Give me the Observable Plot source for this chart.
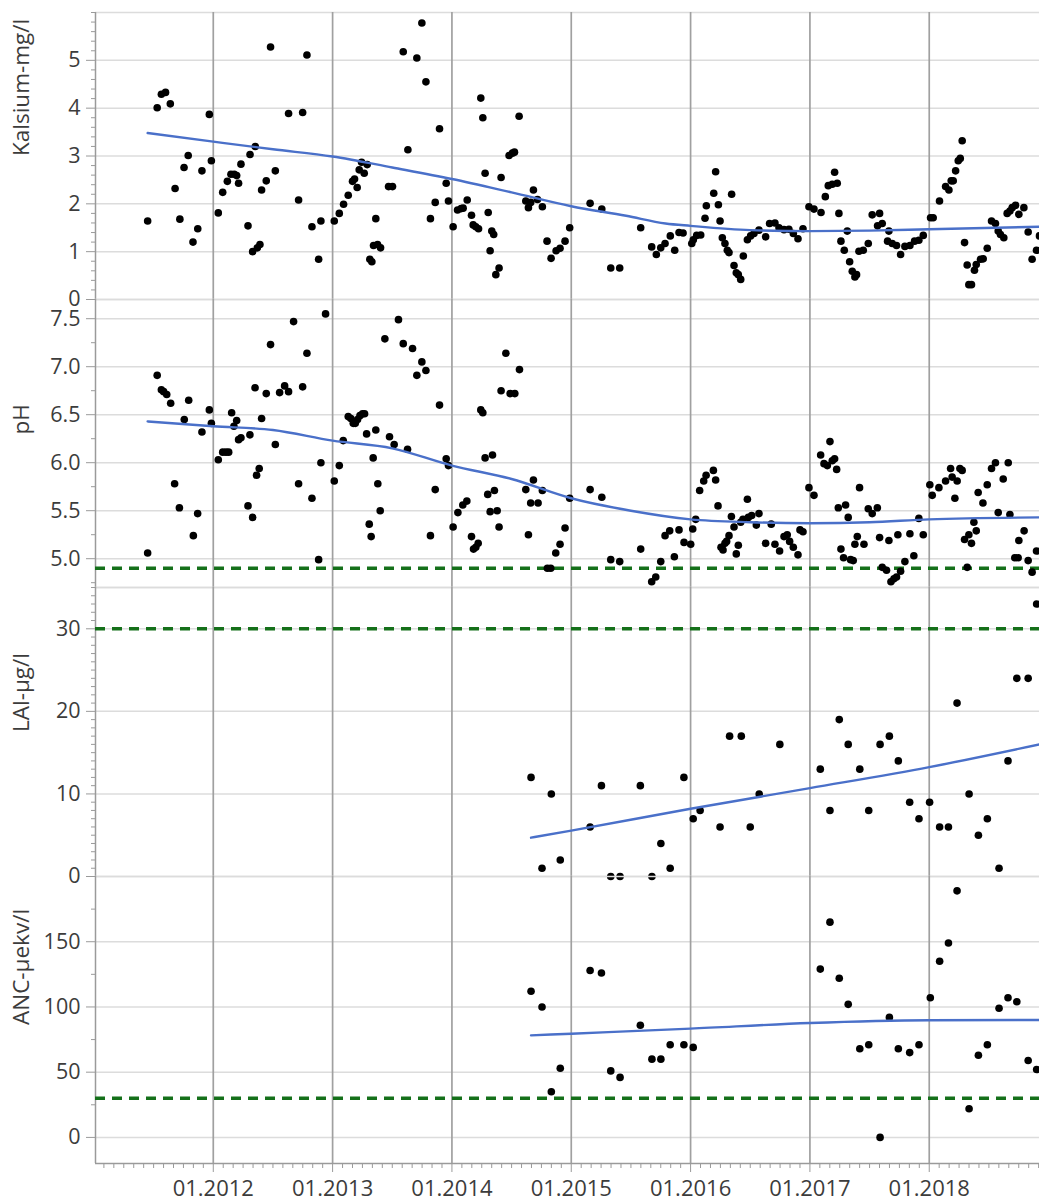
<!DOCTYPE html>
<html>
<head>
<meta charset="utf-8">
<script src="https://cdn.jsdelivr.net/npm/d3@7"></script>
<script src="https://cdn.jsdelivr.net/npm/@observablehq/plot@0.6"></script>
<style>
  html, body { margin: 0; padding: 0; background: #fff; }
  #chart svg { display: block; overflow: visible; }
</style>
</head>
<body>
<div id="chart"></div>
<script>
// ---------- x axis (decimal years) ----------
const yearTicks = [2012, 2013, 2014, 2015, 2016, 2017, 2018];
const yearTickLabels = ["01.2012", "01.2013", "01.2014", "01.2015", "01.2016", "01.2017", "01.2018"];
const xDomain = [2011.013, 2018.924];

// ---------- Kalsium (mg/l): [year, value] ----------
const kalsium = [
[2011.45,1.64],[2011.53,4.01],[2011.565,4.29],[2011.60,4.33],[2011.64,4.09],[2011.68,2.32],[2011.72,1.68],[2011.755,2.76],[2011.79,3.01],[2011.83,1.20],[2011.87,1.48],[2011.905,2.69],[2011.967,3.87],[2011.984,2.90],
[2012.042,1.81],[2012.079,2.24],[2012.118,2.47],[2012.148,2.62],[2012.176,2.62],[2012.196,2.59],[2012.212,2.43],[2012.232,2.83],[2012.291,1.54],[2012.308,3.03],[2012.33,1.00],[2012.352,3.20],[2012.369,1.08],[2012.391,1.15],[2012.405,2.29],[2012.444,2.48],[2012.48,5.28],[2012.52,2.69],[2012.631,3.89],[2012.715,2.08],[2012.749,3.91],[2012.785,5.11],[2012.827,1.52],[2012.883,0.84],[2012.902,1.64],
[2013.014,1.64],[2013.056,1.80],[2013.092,1.99],[2013.131,2.18],[2013.167,2.47],[2013.184,2.52],[2013.206,2.34],[2013.223,2.71],[2013.243,2.87],[2013.265,2.64],[2013.29,2.82],[2013.312,0.84],[2013.329,0.79],[2013.343,1.13],[2013.362,1.69],[2013.377,1.15],[2013.402,1.08],[2013.469,2.36],[2013.502,2.36],[2013.592,5.18],[2013.631,3.13],[2013.706,5.05],[2013.748,5.78],[2013.782,4.55],[2013.82,1.69],[2013.86,2.03],[2013.896,3.57],[2013.952,2.43],[2013.971,2.06],
[2014.01,1.52],[2014.047,1.87],[2014.077,1.90],[2014.094,1.91],[2014.128,2.08],[2014.164,1.76],[2014.178,1.56],[2014.2,1.52],[2014.223,1.48],[2014.242,4.21],[2014.259,3.80],[2014.278,2.64],[2014.304,1.82],[2014.32,1.02],[2014.334,1.43],[2014.35,1.36],[2014.368,0.52],[2014.395,0.66],[2014.412,2.55],[2014.479,3.01],[2014.507,3.06],[2014.524,3.08],[2014.563,3.83],[2014.619,2.06],[2014.641,1.92],[2014.66,2.03],[2014.683,2.29],[2014.717,2.09],[2014.758,1.94],[2014.797,1.22],[2014.831,0.86],[2014.873,1.02],[2014.906,1.07],[2014.948,1.22],[2014.987,1.50],
[2015.158,2.01],[2015.256,1.89],[2015.331,0.66],[2015.406,0.66],[2015.582,1.50],[2015.674,1.10],[2015.713,0.94],[2015.75,1.08],[2015.786,1.17],[2015.83,1.33],[2015.867,1.03],[2015.903,1.40],[2015.937,1.39],
[2016.01,1.17],[2016.023,1.25],[2016.051,1.34],[2016.085,1.35],[2016.121,1.70],[2016.132,1.96],[2016.194,2.22],[2016.21,2.67],[2016.233,1.98],[2016.247,1.64],[2016.266,1.29],[2016.288,1.17],[2016.308,1.03],[2016.322,0.98],[2016.344,2.20],[2016.364,0.71],[2016.383,0.56],[2016.4,0.52],[2016.42,0.42],[2016.442,0.91],[2016.476,1.25],[2016.503,1.33],[2016.531,1.38],[2016.573,1.45],[2016.629,1.31],[2016.662,1.59],[2016.707,1.60],[2016.741,1.50],[2016.783,1.46],[2016.824,1.47],[2016.861,1.38],[2016.9,1.27],[2016.942,1.48],[2016.992,1.94],
[2017.034,1.89],[2017.093,1.82],[2017.129,2.15],[2017.154,2.38],[2017.187,2.41],[2017.207,2.66],[2017.229,2.43],[2017.243,1.80],[2017.26,1.22],[2017.288,1.03],[2017.313,1.43],[2017.333,0.79],[2017.355,0.59],[2017.377,0.47],[2017.391,0.52],[2017.411,1.01],[2017.447,1.03],[2017.489,1.17],[2017.522,1.77],[2017.567,1.54],[2017.584,1.80],[2017.606,1.59],[2017.651,1.22],[2017.662,1.43],[2017.69,1.17],[2017.726,1.13],[2017.76,0.94],[2017.796,1.11],[2017.838,1.13],[2017.877,1.22],[2017.913,1.24],[2017.95,1.34],
[2018.011,1.71],[2018.033,1.71],[2018.086,2.06],[2018.137,2.36],[2018.165,2.29],[2018.184,2.48],[2018.201,2.48],[2018.221,2.69],[2018.243,2.90],[2018.26,2.95],[2018.276,3.32],[2018.296,1.19],[2018.318,0.72],[2018.332,0.31],[2018.354,0.31],[2018.379,0.61],[2018.394,0.73],[2018.43,0.84],[2018.452,0.85],[2018.486,1.07],[2018.522,1.64],[2018.555,1.59],[2018.578,1.43],[2018.597,1.36],[2018.625,1.29],[2018.653,1.80],[2018.676,1.85],[2018.695,1.92],[2018.723,1.97],[2018.751,1.78],[2018.793,1.92],[2018.829,1.41],[2018.862,0.84],[2018.899,1.03],[2018.924,1.33]
];
const kalsiumTrend = [[2011.45,3.48],[2012,3.30],[2012.5,3.14],[2013,2.99],[2013.5,2.76],[2014,2.52],[2014.5,2.24],[2015,1.95],[2015.46,1.75],[2015.79,1.59],[2016,1.54],[2016.5,1.45],[2017,1.43],[2017.5,1.44],[2018,1.47],[2018.924,1.52]];

// ---------- pH: [year, value] ----------
const ph = [
[2011.45,5.06],[2011.53,6.91],[2011.565,6.76],[2011.584,6.74],[2011.61,6.71],[2011.643,6.62],[2011.676,5.78],[2011.716,5.53],[2011.757,6.45],[2011.794,6.65],[2011.833,5.24],[2011.869,5.47],[2011.905,6.32],[2011.967,6.55],[2011.984,6.41],
[2012.042,6.03],[2012.079,6.11],[2012.106,6.11],[2012.129,6.11],[2012.154,6.52],[2012.173,6.38],[2012.196,6.44],[2012.212,6.24],[2012.232,6.26],[2012.291,5.55],[2012.307,6.29],[2012.33,5.43],[2012.35,6.78],[2012.363,5.87],[2012.385,5.94],[2012.405,6.46],[2012.444,6.72],[2012.48,7.23],[2012.52,6.19],[2012.556,6.73],[2012.598,6.80],[2012.631,6.74],[2012.673,7.47],[2012.715,5.78],[2012.749,6.79],[2012.785,7.14],[2012.827,5.63],[2012.883,4.99],[2012.902,6.00],[2012.941,7.55],
[2013.014,5.81],[2013.056,5.97],[2013.089,6.23],[2013.131,6.48],[2013.153,6.46],[2013.173,6.41],[2013.19,6.41],[2013.209,6.45],[2013.229,6.49],[2013.251,6.51],[2013.268,6.51],[2013.285,6.30],[2013.307,5.36],[2013.323,5.23],[2013.34,6.05],[2013.362,6.34],[2013.379,5.78],[2013.399,5.50],[2013.438,7.29],[2013.477,6.27],[2013.516,6.19],[2013.552,7.49],[2013.592,7.24],[2013.628,6.14],[2013.67,7.19],[2013.706,6.91],[2013.748,7.05],[2013.782,6.96],[2013.82,5.24],[2013.86,5.72],[2013.896,6.60],[2013.952,6.04],[2013.971,5.97],
[2014.01,5.33],[2014.05,5.48],[2014.091,5.56],[2014.125,5.60],[2014.164,5.23],[2014.181,5.10],[2014.2,5.12],[2014.22,5.16],[2014.242,6.55],[2014.259,6.52],[2014.278,6.05],[2014.3,5.67],[2014.32,5.49],[2014.34,6.08],[2014.356,5.71],[2014.379,5.50],[2014.395,5.33],[2014.412,6.75],[2014.452,7.14],[2014.488,6.72],[2014.527,6.72],[2014.566,6.97],[2014.619,5.72],[2014.641,5.25],[2014.66,5.58],[2014.683,5.82],[2014.722,5.58],[2014.758,5.71],[2014.8,4.90],[2014.828,4.90],[2014.87,5.06],[2014.906,5.15],[2014.948,5.32],[2014.987,5.63],
[2015.158,5.72],[2015.256,5.64],[2015.331,4.99],[2015.406,4.97],[2015.582,5.10],[2015.674,4.76],[2015.708,4.81],[2015.75,4.97],[2015.786,5.24],[2015.825,5.29],[2015.864,5.02],[2015.903,5.30],[2015.945,5.17],
[2016.001,5.15],[2016.018,5.31],[2016.043,5.41],[2016.076,5.71],[2016.11,5.81],[2016.13,5.87],[2016.191,5.92],[2016.21,5.82],[2016.23,5.55],[2016.255,5.12],[2016.272,5.09],[2016.288,5.16],[2016.302,5.18],[2016.322,5.24],[2016.342,5.44],[2016.364,5.33],[2016.383,5.05],[2016.4,5.14],[2016.42,5.38],[2016.439,5.41],[2016.476,5.62],[2016.484,5.43],[2016.512,5.45],[2016.551,5.35],[2016.573,5.47],[2016.629,5.16],[2016.676,5.36],[2016.707,5.15],[2016.746,5.08],[2016.783,5.23],[2016.81,5.25],[2016.83,5.18],[2016.861,5.12],[2016.9,5.04],[2016.917,5.30],[2016.942,5.28],[2016.992,5.74],
[2017.034,5.66],[2017.09,6.08],[2017.118,5.99],[2017.146,5.97],[2017.168,6.22],[2017.187,6.02],[2017.207,6.04],[2017.224,5.93],[2017.238,5.53],[2017.26,5.10],[2017.282,5.01],[2017.299,5.56],[2017.321,5.43],[2017.341,4.99],[2017.363,4.98],[2017.377,5.15],[2017.397,5.23],[2017.416,5.74],[2017.453,5.15],[2017.489,5.52],[2017.522,5.47],[2017.565,5.53],[2017.584,5.22],[2017.606,4.91],[2017.642,4.88],[2017.662,5.19],[2017.679,4.76],[2017.704,4.79],[2017.726,4.81],[2017.737,5.25],[2017.76,4.87],[2017.796,4.97],[2017.838,5.26],[2017.871,5.03],[2017.913,5.42],[2017.95,5.25],
[2018.005,5.77],[2018.025,5.66],[2018.081,5.74],[2018.137,5.81],[2018.179,5.94],[2018.192,5.85],[2018.215,5.63],[2018.234,5.81],[2018.257,5.94],[2018.276,5.92],[2018.296,5.20],[2018.318,4.91],[2018.332,5.25],[2018.354,5.16],[2018.374,5.38],[2018.394,5.29],[2018.41,5.69],[2018.45,5.58],[2018.486,5.77],[2018.522,5.94],[2018.555,6.00],[2018.578,5.48],[2018.62,5.83],[2018.662,6.00],[2018.676,5.46],[2018.717,5.01],[2018.745,5.01],[2018.751,5.19],[2018.795,5.29],[2018.829,4.98],[2018.862,4.86],[2018.899,5.08]
];
const phTrend = [[2011.45,6.43],[2012,6.38],[2012.5,6.34],[2013,6.23],[2013.5,6.15],[2014,5.97],[2014.5,5.83],[2015,5.63],[2015.5,5.50],[2016,5.41],[2016.5,5.38],[2017,5.37],[2017.5,5.38],[2018,5.41],[2018.924,5.43]];

// ---------- LAl (µg/l): [year, value] ----------
const lal = [
[2014.663,12],[2014.755,1],[2014.833,10],[2014.908,2],[2015.158,6],[2015.253,11],[2015.331,0],[2015.409,0],[2015.579,11],[2015.676,0],[2015.751,4],[2015.829,1],[2015.944,12],
[2016.022,7],[2016.08,8],[2016.247,6],[2016.327,17],[2016.425,17],[2016.5,6],[2016.575,10],[2016.748,16],
[2017.087,13],[2017.168,8],[2017.246,19],[2017.321,16],[2017.418,13],[2017.493,8],[2017.588,16],[2017.666,17],[2017.741,14],[2017.836,9],[2017.914,7],
[2018.003,9],[2018.087,6],[2018.161,6],[2018.233,21],[2018.334,10],[2018.412,5],[2018.487,7],[2018.585,1],[2018.66,14],[2018.734,24],[2018.829,24],[2018.9,33]
];
const lalTrend = [[2014.663,4.7],[2015,5.55],[2016,8.2],[2017,10.7],[2018,13.25],[2018.924,16.0]];

// ---------- ANC (µekv/l): [year, value] ----------
const anc = [
[2014.663,112],[2014.755,100],[2014.833,35],[2014.908,53],[2015.158,128],[2015.253,126],[2015.331,51],[2015.409,46],[2015.579,86],[2015.676,60],[2015.751,60],[2015.829,71],[2015.944,71],[2016.022,69],
[2017.087,129],[2017.168,165],[2017.246,122],[2017.321,102],[2017.418,68],[2017.493,71],[2017.588,0],[2017.666,92],[2017.741,68],[2017.836,65],[2017.914,71],
[2018.009,107],[2018.087,135],[2018.161,149],[2018.233,189],[2018.334,22],[2018.412,63],[2018.487,71],[2018.585,99],[2018.66,107],[2018.734,104],[2018.829,59],[2018.9,52]
];
const ancTrend = [[2014.663,78.2],[2015,79.5],[2016,83.4],[2017,87.7],[2018,89.8],[2018.924,90.0]];

// ---------- panel definitions ----------
const panels = [
  {label: "Kalsium-mg/l", data: kalsium, trend: kalsiumTrend, domain: [0, 6],
   major: [0, 1, 2, 3, 4, 5], minorStep: 0.2, fmt: d3.format("d"), refs: [],
   height: 299, marginTop: 12, marginBottom: 0, labelDy: 0},
  {label: "pH", data: ph, trend: phTrend, domain: [4.7, 7.7],
   major: [5.0, 5.5, 6.0, 6.5, 7.0, 7.5], minorStep: 0.25, fmt: d3.format(".1f"), refs: [4.9],
   height: 288, marginTop: 0, marginBottom: 0, labelDy: -9},
  {label: "LAl-µg/l", data: lal, trend: lalTrend, domain: [0, 35],
   major: [0, 10, 20, 30], minorStep: 1, fmt: d3.format("d"), refs: [30],
   height: 289, marginTop: 0, marginBottom: 0, labelDy: 0},
  {label: "ANC-µekv/l", data: anc, trend: ancTrend, domain: [-20, 200],
   major: [0, 50, 100, 150], minorStep: 25, fmt: d3.format("d"), refs: [30],
   height: 325, marginTop: 0, marginBottom: 38, labelDy: 5, xAxis: true}
];

const GRID_H = "#dcdcdc", GRID_V = "#a0a0a0", AXIS = "#9a9a9a";
const TEXT = "#3c3c3c", TREND = "#4a70c9", REF = "#15701a";
const FONT = "'Open Sans', 'Noto Sans', sans-serif";
const monthTicks = d3.range(2011 + 1/12, 2018.924, 1/12).filter(m => Math.abs(m - Math.round(m)) > 1e-6);

const root = document.getElementById("chart");
for (const p of panels) {
  const [lo, hi] = p.domain;
  const minor = d3.range(Math.ceil(lo / p.minorStep) * p.minorStep, hi + 1e-9, p.minorStep)
    .map(v => +v.toFixed(4))
    .filter(v => !p.major.some(m => Math.abs(m - v) < 1e-6));
  const marks = [
    Plot.gridY(p.major.filter(v => v > lo && v < hi), {stroke: GRID_H, strokeOpacity: 1, strokeWidth: 1.5}),
    Plot.ruleY([hi], {stroke: GRID_H, strokeWidth: 1.5}),
    p.xAxis ? null : Plot.ruleY([lo], {stroke: GRID_H, strokeWidth: 1.5}),
    Plot.gridX(yearTicks, {stroke: GRID_V, strokeOpacity: 1, strokeWidth: 1.7}),
    Plot.ruleX([xDomain[0]], {stroke: AXIS, strokeWidth: 1.5}),
    Plot.ruleY(p.refs, {stroke: REF, strokeWidth: 3.5, strokeDasharray: "10,7"}),
    Plot.dot(p.data, {x: d => d[0], y: d => d[1], r: 3.8, fill: "#000", stroke: "none"}),
    Plot.line(p.trend, {x: d => d[0], y: d => d[1], stroke: TREND, strokeWidth: 2.4, curve: "monotone-x"}),
    Plot.axisY(minor, {tickSize: 4, stroke: AXIS, tickFormat: () => ""}),
    Plot.axisY(p.major, {tickSize: 9, tickPadding: 6, stroke: AXIS, fill: TEXT, tickFormat: p.fmt, fontSize: 21.5}),
    Plot.text([p.label], {frameAnchor: "left", rotate: -90, dx: -74, dy: p.labelDy, fontSize: 22.5, fill: TEXT})
  ];
  if (p.xAxis) {
    marks.push(
      Plot.ruleY([lo], {stroke: AXIS, strokeWidth: 1.5}),
      Plot.axisX(monthTicks, {tickSize: 5, stroke: AXIS, tickFormat: () => ""}),
      Plot.axisX(yearTicks, {tickSize: 9, tickPadding: 8, stroke: AXIS, fill: TEXT, fontSize: 22,
        tickFormat: d => yearTickLabels[yearTicks.indexOf(d)]})
    );
  }
  const svg = Plot.plot({
    width: 1039, height: p.height,
    marginLeft: 95, marginRight: 0, marginTop: p.marginTop, marginBottom: p.marginBottom,
    style: {fontFamily: FONT, color: TEXT, background: "transparent", overflow: "visible"},
    x: {type: "linear", domain: xDomain, axis: null},
    y: {domain: p.domain, axis: null},
    marks
  });
  root.appendChild(svg);
}
</script>
</body>
</html>
